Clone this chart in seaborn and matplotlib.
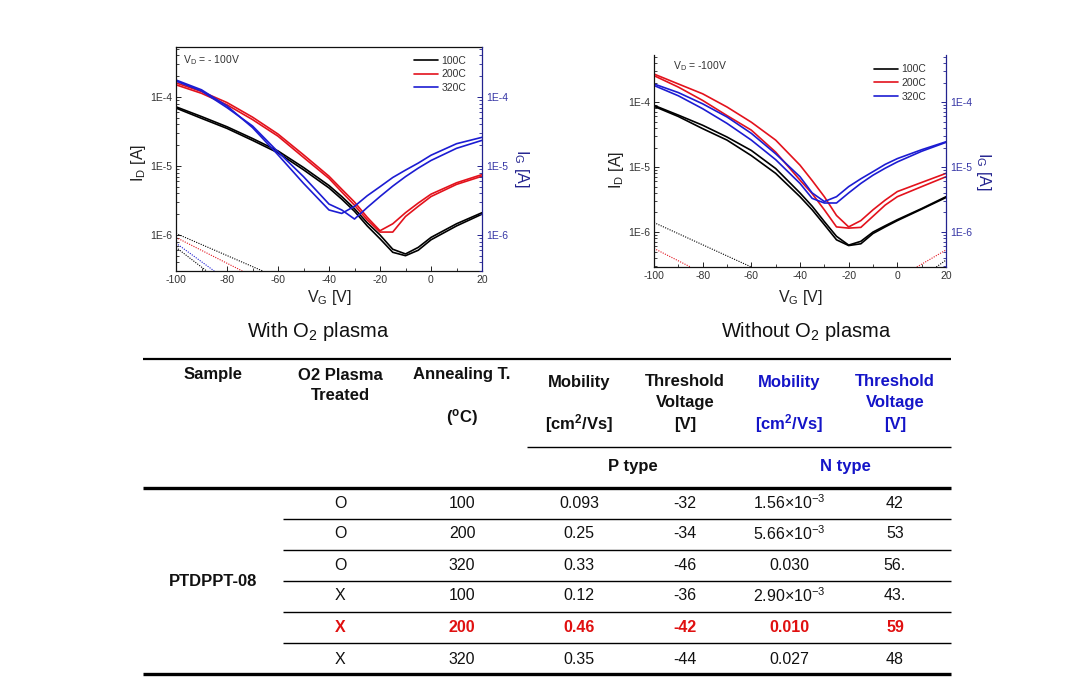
import numpy as np
import pandas as pd
import matplotlib
matplotlib.use('Agg')
import matplotlib.pyplot as plt
from matplotlib.lines import Line2D
from matplotlib.ticker import FixedLocator, FuncFormatter, LogLocator, NullFormatter, MultipleLocator
import seaborn as sns

# ---------------- data ----------------
vg = [-100, -90, -80, -70, -60, -50, -40, -35, -30, -25, -20, -15, -10, -5, 0, 10, 20]
temps = ['100C', '200C', '320C']

# With O2 plasma (two sweeps each)
with_100_a = [7.2e-5, 5.2e-5, 3.7e-5, 2.5e-5, 1.65e-5, 9.5e-6, 5.2e-6, 3.6e-6, 2.4e-6, 1.5e-6, 1.0e-6, 6.2e-7, 5.3e-7, 6.6e-7, 9.2e-7, 1.45e-6, 2.1e-6]
with_100_b = [6.9e-5, 4.9e-5, 3.5e-5, 2.35e-5, 1.55e-5, 8.8e-6, 4.8e-6, 3.3e-6, 2.2e-6, 1.35e-6, 8.8e-7, 5.6e-7, 5.0e-7, 6.0e-7, 8.5e-7, 1.35e-6, 2.0e-6]
with_200_a = [1.6e-4, 1.2e-4, 8.3e-5, 5.1e-5, 2.9e-5, 1.45e-5, 7.1e-6, 4.6e-6, 3.0e-6, 1.8e-6, 1.15e-6, 1.45e-6, 2.1e-6, 2.9e-6, 3.9e-6, 5.7e-6, 7.5e-6]
with_200_b = [1.5e-4, 1.13e-4, 7.7e-5, 4.7e-5, 2.7e-5, 1.33e-5, 6.6e-6, 4.2e-6, 2.7e-6, 1.65e-6, 1.1e-6, 1.1e-6, 1.85e-6, 2.6e-6, 3.6e-6, 5.4e-6, 7.1e-6]
with_320_a = [1.76e-4, 1.27e-4, 7.4e-5, 3.6e-5, 1.45e-5, 5.6e-6, 2.3e-6, 2.05e-6, 2.6e-6, 3.7e-6, 5.0e-6, 6.8e-6, 8.7e-6, 1.1e-5, 1.43e-5, 2.1e-5, 2.6e-5]
with_320_b = [1.7e-4, 1.22e-4, 7.0e-5, 3.8e-5, 1.6e-5, 7.0e-6, 2.8e-6, 2.3e-6, 1.7e-6, 2.5e-6, 3.6e-6, 5.1e-6, 7.0e-6, 9.3e-6, 1.2e-5, 1.8e-5, 2.35e-5]

# Without O2 plasma
wo_100_a = [8.9e-5, 6.3e-5, 4.4e-5, 2.9e-5, 1.8e-5, 9.5e-6, 4.0e-6, 2.5e-6, 1.45e-6, 8.6e-7, 6.3e-7, 7.2e-7, 1.0e-6, 1.25e-6, 1.55e-6, 2.3e-6, 3.5e-6]
wo_100_b = [8.6e-5, 6.0e-5, 3.9e-5, 2.6e-5, 1.5e-5, 8.0e-6, 3.5e-6, 2.2e-6, 1.3e-6, 7.6e-7, 6.2e-7, 6.6e-7, 9.5e-7, 1.2e-6, 1.5e-6, 2.25e-6, 3.4e-6]
wo_200_a = [2.7e-4, 1.9e-4, 1.34e-4, 8.4e-5, 4.9e-5, 2.6e-5, 1.07e-5, 6.2e-6, 3.5e-6, 1.8e-6, 1.2e-6, 1.5e-6, 2.2e-6, 3.1e-6, 4.2e-6, 5.8e-6, 8.0e-6]
wo_200_b = [2.55e-4, 1.7e-4, 1.06e-4, 6.2e-5, 3.7e-5, 1.7e-5, 6.3e-6, 3.9e-6, 2.2e-6, 1.2e-6, 1.15e-6, 1.18e-6, 1.75e-6, 2.6e-6, 3.5e-6, 5.0e-6, 7.1e-6]
wo_320_a = [1.9e-4, 1.4e-4, 9.4e-5, 5.9e-5, 3.3e-5, 1.6e-5, 7.1e-6, 4.0e-6, 2.95e-6, 3.5e-6, 5.0e-6, 6.6e-6, 8.5e-6, 1.1e-5, 1.35e-5, 1.85e-5, 2.45e-5]
wo_320_b = [1.8e-4, 1.25e-4, 7.9e-5, 4.7e-5, 2.6e-5, 1.3e-5, 5.6e-6, 3.3e-6, 2.8e-6, 2.8e-6, 4.0e-6, 5.6e-6, 7.5e-6, 9.6e-6, 1.2e-5, 1.75e-5, 2.4e-5]

# gate leakage (dotted) segments: (VG list, IG list, temperature)
with_gate = [([-100, -66], [1.05e-6, 3.0e-7], '100C'),
             ([-100, -74], [9.2e-7, 3.0e-7], '200C'),
             ([-100, -85], [7.6e-7, 3.0e-7], '320C'),
             ([-100, -88], [6.6e-7, 3.0e-7], '100C')]
wo_gate = [([-100, -60], [1.4e-6, 2.9e-7], '100C'),
           ([-100, -85], [5.6e-7, 2.9e-7], '200C'),
           ([8, 20], [2.9e-7, 5.3e-7], '200C'),
           ([16, 20], [2.9e-7, 3.7e-7], '100C')]

# table
header_cols = ['Sample', 'O2 Plasma', 'Annealing T.']
plasma = ['O', 'O', 'O', 'X', 'X', 'X']
anneal = ['100', '200', '320', '100', '200', '320']
p_mobility = ['0.093', '0.25', '0.33', '0.12', '0.46', '0.35']
p_vth = ['-32', '-34', '-46', '-36', '-42', '-44']
n_mobility = ['1.56\u00d710$^{\\mathregular{-3}}$', '5.66\u00d710$^{\\mathregular{-3}}$', '0.030',
              '2.90\u00d710$^{\\mathregular{-3}}$', '0.010', '0.027']
n_vth = ['42', '53', '56.', '43.', '59', '48']
sample_name = 'PTDPPT-08'
highlight_row = 4

# ---------------- style ----------------
sns.set_theme(style='white')
plt.rcParams['font.family'] = ['Liberation Sans', 'DejaVu Sans']
plt.rcParams['mathtext.fontset'] = 'custom'
plt.rcParams['mathtext.rm'] = 'Liberation Sans'
plt.rcParams['mathtext.it'] = 'Liberation Sans:italic'
plt.rcParams['mathtext.bf'] = 'Liberation Sans:bold'
plt.rcParams['axes.unicode_minus'] = False

palette = {'100C': '#000000', '200C': '#e3121c', '320C': '#1c1cd2'}
navy = '#23238f'
tblue = '#1414c8'
tred = '#e01010'

W, H = 1083, 695
fig = plt.figure(figsize=(W / 100, H / 100), dpi=100)


def px_axes(l, t, r, b):
    return fig.add_axes([l / W, 1 - b / H, (r - l) / W, (b - t) / H])


def fmt_e(v, pos):
    e = int(round(np.log10(v)))
    return '1E%d' % e


def panel(ax, curves, gates, ylim, top_spine, vd_text, vd_xy, leg_anchor):
    rows = []
    for t, (a, b) in zip(temps, curves):
        for s, arr in (('fwd', a), ('rev', b)):
            for x, y in zip(vg, arr):
                rows.append((x, y, t, s))
    df = pd.DataFrame(rows, columns=['VG', 'ID', 'T', 'sweep'])
    sns.lineplot(data=df, x='VG', y='ID', hue='T', units='sweep', estimator=None,
                 palette=palette, lw=1.2, sort=False, legend=False, ax=ax)
    for gx, gy, t in gates:
        gdf = pd.DataFrame({'VG': gx, 'IG': gy})
        sns.lineplot(data=gdf, x='VG', y='IG', color=palette[t], lw=0.8,
                     linestyle=(0, (1, 1.2)), ax=ax, sort=False, estimator=None)
    ax.set_yscale('log')
    ax.set_xlim(-100, 20)
    ax.set_ylim(*ylim)
    ax.set_xlabel('')
    ax.set_ylabel('')
    ax.yaxis.set_major_locator(FixedLocator([1e-6, 1e-5, 1e-4]))
    ax.yaxis.set_major_formatter(FuncFormatter(fmt_e))
    ax.yaxis.set_minor_locator(LogLocator(base=10, subs=np.arange(2, 10)))
    ax.yaxis.set_minor_formatter(NullFormatter())
    ax.xaxis.set_major_locator(MultipleLocator(20))
    ax.xaxis.set_minor_locator(MultipleLocator(10))
    ax.tick_params(which='both', direction='in', left=True, bottom=True, right=False, top=False,
                   labelsize=7.5, labelcolor='#333333', color='#222222', pad=3)
    ax.tick_params(which='major', length=3.5, width=0.7)
    ax.tick_params(which='minor', length=2, width=0.6)
    for sp in ('left', 'bottom', 'top'):
        ax.spines[sp].set_color('#111111')
        ax.spines[sp].set_linewidth(0.9)
    ax.spines['right'].set_visible(False)
    ax.spines['top'].set_visible(top_spine)

    ax2 = ax.twinx()
    ax2.set_yscale('log')
    ax2.set_ylim(*ylim)
    ax2.yaxis.set_major_locator(FixedLocator([1e-6, 1e-5, 1e-4]))
    ax2.yaxis.set_major_formatter(FuncFormatter(fmt_e))
    ax2.yaxis.set_minor_locator(LogLocator(base=10, subs=np.arange(2, 10)))
    ax2.yaxis.set_minor_formatter(NullFormatter())
    ax2.tick_params(which='both', direction='in', right=True, labelsize=7.5,
                    labelcolor='#3535a5', color=navy, pad=3)
    ax2.tick_params(which='major', length=3.5, width=0.7)
    ax2.tick_params(which='minor', length=2, width=0.6)
    for sp in ('left', 'bottom', 'top'):
        ax2.spines[sp].set_visible(False)
    ax2.spines['right'].set_color(navy)
    ax2.spines['right'].set_linewidth(0.9)

    handles = [Line2D([], [], color=palette[t], lw=1.2) for t in temps]
    ax.legend(handles, temps, loc='upper right', bbox_to_anchor=leg_anchor, frameon=False,
              fontsize=7.5, handlelength=2.3, handletextpad=0.3, labelspacing=0.35, borderpad=0,
              labelcolor='#333333')
    fig.text(vd_xy[0] / W, 1 - vd_xy[1] / H, vd_text, fontsize=7.5, color='#333333',
             ha='left', va='center')


# ---------------- plots ----------------
axL = px_axes(176, 47, 482, 271)
panel(axL, [(with_100_a, with_100_b), (with_200_a, with_200_b), (with_320_a, with_320_b)],
      with_gate, (3.0e-7, 5.3e-4), True, 'V$_{\\mathregular{D}}$ = - 100V', (183, 60), (0.965, 0.985))

axR = px_axes(654, 55, 946, 267)
panel(axR, [(wo_100_a, wo_100_b), (wo_200_a, wo_200_b), (wo_320_a, wo_320_b)],
      wo_gate, (2.9e-7, 5.3e-4), False, 'V$_{\\mathregular{D}}$ = -100V', (673, 66), (0.95, 0.98))

lab_kw = dict(fontsize=11.5, color='#222222', ha='center', va='center')
fig.text(138 / W, 1 - 163 / H, 'I$_{\\mathregular{D}}$ [A]', rotation=90, **lab_kw)
fig.text(329 / W, 1 - 298 / H, 'V$_{\\mathregular{G}}$ [V]', **lab_kw)
fig.text(617 / W, 1 - 170 / H, 'I$_{\\mathregular{D}}$ [A]', rotation=90, **lab_kw)
fig.text(800 / W, 1 - 298 / H, 'V$_{\\mathregular{G}}$ [V]', **lab_kw)
blab_kw = dict(fontsize=11.5, color='#23238f', ha='center', va='center', rotation=270)
fig.text(521 / W, 1 - 168 / H, 'I$_{\\mathregular{G}}$ [A]', **blab_kw)
fig.text(984 / W, 1 - 171 / H, 'I$_{\\mathregular{G}}$ [A]', **blab_kw)

fig.text(318 / W, 1 - 337 / H, 'With O$_{\\mathregular{2}}$ plasma', fontsize=14.5, color='#111111',
         ha='center', va='baseline')
fig.text(806 / W, 1 - 337 / H, 'Without O$_{\\mathregular{2}}$ plasma', fontsize=14.5, color='#111111',
         ha='center', va='baseline')

# ---------------- table ----------------
tax = fig.add_axes([0, 0, 1, 1], zorder=-1)
tax.set_xlim(0, W)
tax.set_ylim(H, 0)
tax.axis('off')
tax.patch.set_alpha(0)

tax.plot([143, 951], [358.5, 358.5], color='black', lw=1.6, solid_capstyle='butt')
tax.plot([527, 951], [446.5, 446.5], color='black', lw=1.0, solid_capstyle='butt')
tax.plot([143, 951], [487.5, 487.5], color='black', lw=2.4, solid_capstyle='butt')
tax.plot([143, 951], [674, 674], color='black', lw=2.4, solid_capstyle='butt')
for yy in [518.5, 549.5, 580.5, 611.5, 642.5]:
    tax.plot([283, 951], [yy, yy], color='black', lw=1.0, solid_capstyle='butt')

hk = dict(fontsize=12, fontweight='bold', ha='center', va='center')
tax.text(213, 375, header_cols[0], color='#111111', **hk)
tax.text(340, 375, header_cols[1], color='#111111', **hk)
tax.text(340, 396, 'Treated', color='#111111', **hk)
tax.text(462, 375, header_cols[2], color='#111111', **hk)
tax.text(462, 417, '($^{\\mathbf{o}}$C)', color='#111111', **hk)
for cx, col in ((579, '#111111'), (789, tblue)):
    tax.text(cx, 383, 'Mobility', color=col, **hk)
    tax.text(cx, 424, '[cm$^{\\mathbf{2}}$/Vs]', color=col, **hk)
for cx, col in ((685, '#111111'), (895, tblue)):
    tax.text(cx, 382, 'Threshold', color=col, **hk)
    tax.text(cx, 403, 'Voltage', color=col, **hk)
    tax.text(cx, 424, '[V]', color=col, **hk)
tax.text(633, 467, 'P type', color='#111111', **hk)
tax.text(845, 467, 'N type', color=tblue, **hk)
tax.text(213, 581, sample_name, color='#111111', **hk)

col_x = [340, 462, 579, 685, 789, 895]
row_y = [503, 534, 565, 596, 628, 659]
for i, y in enumerate(row_y):
    vals = [plasma[i], anneal[i], p_mobility[i], p_vth[i], n_mobility[i], n_vth[i]]
    hl = (i == highlight_row)
    for cx, v in zip(col_x, vals):
        tax.text(cx, y, v, fontsize=11.5, ha='center', va='center',
                 color=tred if hl else '#111111', fontweight='bold' if hl else 'normal')

fig.savefig('out.png', dpi=100)
